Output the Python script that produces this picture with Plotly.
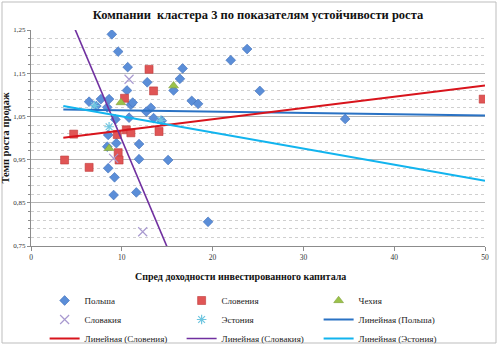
import plotly.graph_objects as go

# ---- data ----
pol_x = [8.9, 9.6, 10.65, 10.57, 12.8, 6.4, 7.7, 8.6, 7.2, 11.0, 11.2, 13.2, 12.7, 8.4, 9.3,
         10.8, 13.5, 14.4, 8.5, 9.4, 11.9, 8.4, 11.9, 15.1, 8.5, 9.2, 9.1, 11.6, 19.5, 23.8,
         22.0, 16.7, 16.4, 15.7, 25.2, 17.7, 18.4, 34.6]
pol_y = [1.24, 1.20, 1.164, 1.11, 1.129, 1.084, 1.09, 1.09, 1.074, 1.077, 1.082, 1.07, 1.061, 1.071, 1.043,
         1.047, 1.046, 1.04, 1.007, 0.988, 0.986, 0.98, 0.951, 0.949, 0.93, 0.909, 0.868, 0.874, 0.806, 1.206,
         1.18, 1.161, 1.137, 1.11, 1.109, 1.086, 1.079, 1.044]

slo_x = [3.7, 4.7, 6.4, 9.6, 9.7, 9.5, 10.3, 10.5, 11.0, 13.0, 13.5, 14.1, 49.8]
slo_y = [0.949, 1.009, 0.932, 0.966, 0.949, 1.008, 1.092, 1.019, 1.012, 1.159, 1.109, 1.015, 1.09]

cze_x = [15.7, 8.6, 9.9]
cze_y = [1.121, 0.976, 1.082]

svk_x = [10.8, 12.3, 9.1]
svk_y = [1.136, 0.783, 0.953]

est_x = [8.6, 14.3, 7.0]
est_y = [1.026, 1.041, 1.075]

trend_x = [3.56, 50]
trend_pol = (1.0671, -0.000301)
trend_slo = (0.9915, 0.0026)
trend_svk = (1.4928, -0.0497)
trend_est = (1.0873, -0.003725)

x_ticks = [0, 10, 20, 30, 40, 50]
y_ticks = [0.75, 0.85, 0.95, 1.05, 1.15, 1.25]

title = "Компании  кластера 3 по показателям устойчивости роста"
x_title = "Спред доходности инвестированного капитала"
y_title = "Темп роста продаж"

SERIF = "Liberation Serif"

fig = go.Figure()

def line_y(p):
    return [p[0] + p[1] * x for x in trend_x]

fig.add_trace(go.Scatter(x=pol_x, y=pol_y, mode="markers", name="Польша",
                         marker=dict(symbol="diamond", size=7.5, color="#5b8ed8",
                                     line=dict(color="#3f6fb8", width=0.6))))
fig.add_trace(go.Scatter(x=slo_x, y=slo_y, mode="markers", name="Словения",
                         marker=dict(symbol="square", size=8, color="#e05555",
                                     line=dict(color="#c03a3a", width=0.6))))
fig.add_trace(go.Scatter(x=cze_x, y=cze_y, mode="markers", name="Чехия",
                         marker=dict(symbol="triangle-up", size=8.5, color="#9bc24a",
                                     line=dict(color="#7fa03a", width=0.6))))
fig.add_trace(go.Scatter(x=svk_x, y=svk_y, mode="markers", name="Словакия",
                         marker=dict(symbol="x-thin", size=9, color="#a99ad0",
                                     line=dict(color="#a99ad0", width=1.2))))
fig.add_trace(go.Scatter(x=est_x, y=est_y, mode="markers", name="Эстония",
                         marker=dict(symbol="asterisk", size=8, color="#6fc6e0",
                                     line=dict(color="#6fc6e0", width=1.2))))
fig.add_trace(go.Scatter(x=trend_x, y=line_y(trend_pol), mode="lines", name="Линейная (Польша)",
                         line=dict(color="#2a72c4", width=2)))
fig.add_trace(go.Scatter(x=trend_x, y=line_y(trend_slo), mode="lines", name="Линейная (Словения)",
                         line=dict(color="#d8141c", width=2)))
fig.add_trace(go.Scatter(x=trend_x, y=line_y(trend_svk), mode="lines", name="Линейная (Словакия)",
                         line=dict(color="#7030a0", width=1.6)))
fig.add_trace(go.Scatter(x=trend_x, y=line_y(trend_est), mode="lines", name="Линейная (Эстония)",
                         line=dict(color="#12b4ee", width=2)))

fig.update_layout(
    width=499, height=346,
    margin=dict(l=31, r=14, t=30, b=100, autoexpand=False),
    paper_bgcolor="white", plot_bgcolor="white",
    font=dict(family=SERIF, size=9, color="#222"),
    title=dict(text="<b>" + title + "</b>", x=0.5, xref="paper", y=1 - 15 / 346, yanchor="middle",
               font=dict(family=SERIF, size=12.5, color="#111")),
    showlegend=True,
    legend=dict(orientation="h", xref="paper", x=0.03, xanchor="left",
                yref="container", y=1 - 286 / 346, yanchor="top",
                entrywidth=92, entrywidthmode="pixels", itemwidth=30,
                font=dict(family=SERIF, size=9, color="#222"), tracegroupgap=0,
                bgcolor="rgba(0,0,0,0)"),
    xaxis=dict(range=[0, 50], tickvals=x_ticks, ticktext=[str(v) for v in x_ticks],
               showgrid=False, zeroline=False, showline=True, linecolor="#8c8c8c", linewidth=1,
               ticks="outside", ticklen=4, tickcolor="#8c8c8c",
               tickfont=dict(family=SERIF, size=7.5, color="#333")),
    yaxis=dict(range=[0.75, 1.25], tickvals=y_ticks, ticktext=[f"{v:.2f}".replace(".", ",") for v in y_ticks],
               showgrid=True, gridcolor="#b5b5b5", gridwidth=1,
               zeroline=False, showline=True, linecolor="#8c8c8c", linewidth=1,
               ticks="outside", ticklen=3, tickcolor="#8c8c8c",
               minor=dict(dtick=0.02, tick0=0.75, showgrid=True, gridcolor="#cfcfcf", griddash="dot",
                          ticks="outside", ticklen=2, tickcolor="#8c8c8c"),
               tickfont=dict(family=SERIF, size=7, color="#333"),
               title=dict(text="<b>" + y_title + "</b>", standoff=2,
                          font=dict(family=SERIF, size=10.5, color="#111"))),
    annotations=[dict(text="<b>" + x_title + "</b>", xref="paper", yref="paper",
                      x=(240 - 31) / 454, y=(246 - 276) / 216, xanchor="center", yanchor="middle",
                      showarrow=False, font=dict(family=SERIF, size=10, color="#111"))],
    shapes=[dict(type="rect", xref="paper", yref="paper",
                 x0=(2 - 31) / 454, x1=(496 - 31) / 454,
                 y0=(246 - 343) / 216, y1=(246 - 2) / 216,
                 line=dict(color="#bdbdbd", width=1), fillcolor="rgba(0,0,0,0)", layer="below")],
)

fig.write_html("out.html")
